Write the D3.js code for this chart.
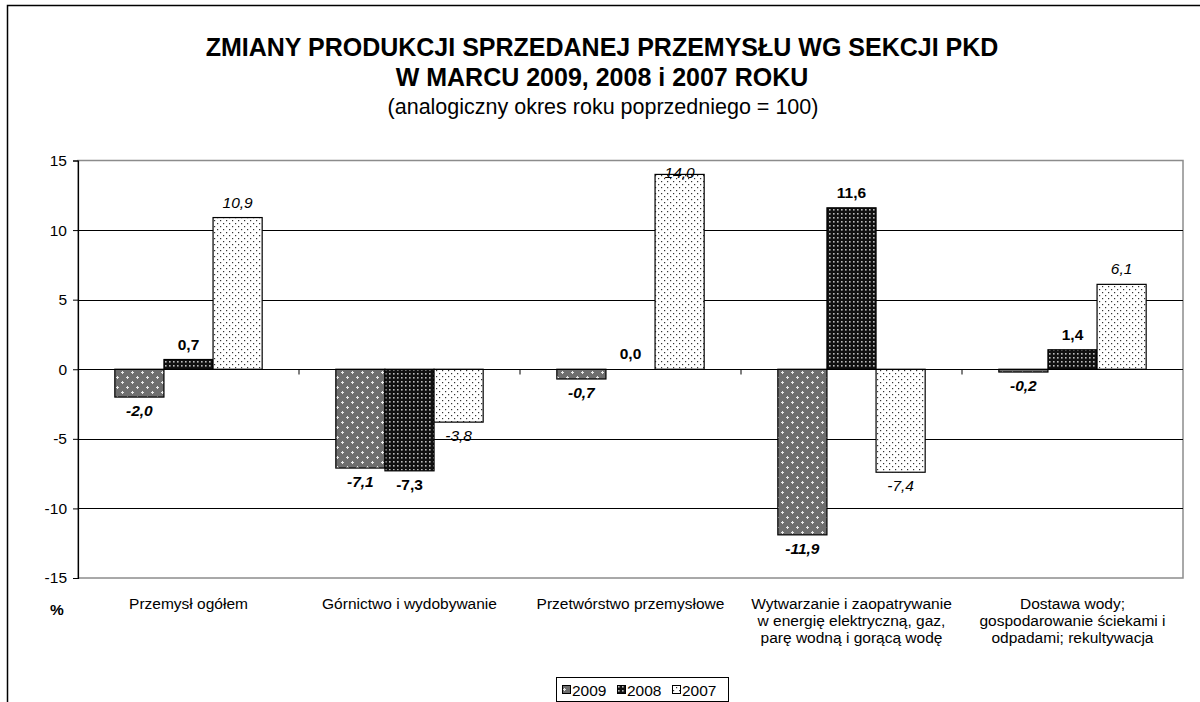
<!DOCTYPE html>
<html>
<head>
<meta charset="utf-8">
<script src="https://cdn.jsdelivr.net/npm/d3@7"></script>
<style>
  body { margin: 0; background: #fff; }
  text { font-family: Arial, "Liberation Sans", sans-serif; }
</style>
</head>
<body>
<div id="chart"></div>
<script>
// category labels, already broken into lines as on the original
const categories = [
  ['Przemysł ogółem'],
  ['Górnictwo i wydobywanie'],
  ['Przetwórstwo przemysłowe'],
  ['Wytwarzanie i zaopatrywanie', 'w energię elektryczną, gaz,', 'parę wodną i gorącą wodę'],
  ['Dostawa wody;', 'gospodarowanie ściekami i', 'odpadami; rekultywacja']
];
const years = ['2009', '2008', '2007'];
const values2009 = [-2.0, -7.1, -0.7, -11.9, -0.2];
const values2008 = [0.7, -7.3, 0.0, 11.6, 1.4];
const values2007 = [10.9, -3.8, 14.0, -7.4, 6.1];
const yTicks = [-15, -10, -5, 0, 5, 10, 15];

const width = 1200, height = 702;
const margin = { top: 160.5, right: 17, bottom: 124, left: 78 };

const svg = d3.select('#chart').append('svg')
  .attr('width', width)
  .attr('height', height);

// fill patterns, roughly like the old Excel ones
const defs = svg.append('defs');

const p09 = defs.append('pattern').attr('id', 'p2009')
  .attr('patternUnits', 'userSpaceOnUse').attr('width', 10).attr('height', 10);
p09.append('rect').attr('width', 10).attr('height', 10).attr('fill', '#6e6e6e');
[[2.5, 2.5], [7.5, 7.5]].forEach(([cx, cy]) => {
  p09.append('rect').attr('x', cx - 1.5).attr('y', cy - 0.5).attr('width', 3).attr('height', 1).attr('fill', '#e8e8e8');
  p09.append('rect').attr('x', cx - 0.5).attr('y', cy - 1.5).attr('width', 1).attr('height', 3).attr('fill', '#e8e8e8');
});

const p08 = defs.append('pattern').attr('id', 'p2008')
  .attr('patternUnits', 'userSpaceOnUse').attr('width', 4).attr('height', 4);
p08.append('rect').attr('width', 4).attr('height', 4).attr('fill', '#111');
p08.append('rect').attr('x', 1).attr('y', 1).attr('width', 1.6).attr('height', 1.6).attr('fill', '#bbb');

const p07 = defs.append('pattern').attr('id', 'p2007')
  .attr('patternUnits', 'userSpaceOnUse').attr('width', 6).attr('height', 6);
p07.append('rect').attr('width', 6).attr('height', 6).attr('fill', '#fff');
p07.append('rect').attr('x', 1).attr('y', 1).attr('width', 1.2).attr('height', 1.2).attr('fill', '#333');
p07.append('rect').attr('x', 4).attr('y', 4).attr('width', 1.2).attr('height', 1.2).attr('fill', '#333');

const fills = { '2009': 'url(#p2009)', '2008': 'url(#p2008)', '2007': 'url(#p2007)' };
const labelStyle = {
  '2009': { weight: 'bold', style: 'italic' },
  '2008': { weight: 'bold', style: 'normal' },
  '2007': { weight: 'normal', style: 'italic' }
};

// outer frame (runs off the right and bottom edges)
svg.append('path')
  .attr('d', `M7.5,${height + 2}V5.5H${width + 2}`)
  .attr('fill', 'none').attr('stroke', '#000').attr('stroke-width', 1.5);

// titles
svg.append('text').attr('x', 602).attr('y', 56).attr('text-anchor', 'middle')
  .attr('font-size', 25).attr('font-weight', 'bold')
  .text('ZMIANY PRODUKCJI SPRZEDANEJ PRZEMYSŁU WG SEKCJI PKD');
svg.append('text').attr('x', 602).attr('y', 86).attr('text-anchor', 'middle')
  .attr('font-size', 25).attr('font-weight', 'bold')
  .text('W MARCU 2009, 2008 i 2007 ROKU');
svg.append('text').attr('x', 603).attr('y', 114).attr('text-anchor', 'middle')
  .attr('font-size', 21.5)
  .text('(analogiczny okres roku poprzedniego = 100)');

const x0 = d3.scaleBand()
  .domain(d3.range(categories.length))
  .range([margin.left, width - margin.right]);

const x1 = d3.scaleBand()
  .domain(years)
  .range([0, x0.bandwidth()])
  .paddingInner(0)
  .paddingOuter(0.75);

const y = d3.scaleLinear()
  .domain([-15, 15])
  .range([height - margin.bottom, margin.top]);

// plot area border
svg.append('rect')
  .attr('x', margin.left).attr('y', y(15))
  .attr('width', width - margin.right - margin.left)
  .attr('height', y(-15) - y(15))
  .attr('fill', 'none').attr('stroke', '#8c8c8c').attr('stroke-width', 1.5);

// gridlines
svg.append('g').selectAll('line')
  .data(yTicks.filter(t => t !== 0 && Math.abs(t) !== 15))
  .join('line')
  .attr('x1', margin.left).attr('x2', width - margin.right)
  .attr('y1', d => Math.round(y(d)) + 0.5).attr('y2', d => Math.round(y(d)) + 0.5)
  .attr('stroke', '#000');

// bars
const series = [values2009, values2008, values2007];
const barData = [];
categories.forEach((c, i) => {
  years.forEach((yr, j) => barData.push({ cat: i, year: yr, value: series[j][i] }));
});

svg.append('g').selectAll('rect')
  .data(barData)
  .join('rect')
  .attr('x', d => x0(d.cat) + x1(d.year))
  .attr('y', d => y(Math.max(0, d.value)))
  .attr('width', x1.bandwidth())
  .attr('height', d => Math.abs(y(d.value) - y(0)))
  .attr('fill', d => fills[d.year])
  .attr('stroke', '#000').attr('stroke-width', 1.2);

// y axis (plain hyphen for negatives, as in the original)
const yAxis = d3.axisLeft(y).tickValues(yTicks).tickSize(5).tickPadding(6).tickFormat(d => String(d));
const yg = svg.append('g').attr('transform', `translate(${margin.left},0)`).call(yAxis);
yg.select('.domain').attr('stroke', '#000').attr('stroke-width', 1.2);
yg.selectAll('.tick line').attr('stroke', '#000');
yg.selectAll('.tick text').attr('font-size', 15.5).attr('fill', '#000')
  .attr('font-family', 'Arial, "Liberation Sans", sans-serif');

// category axis along zero, ticks at the band edges
const zeroY = Math.round(y(0)) + 0.5;
svg.append('line')
  .attr('x1', margin.left).attr('x2', width - margin.right)
  .attr('y1', zeroY).attr('y2', zeroY)
  .attr('stroke', '#000').attr('stroke-width', 1.2);
svg.append('g').selectAll('line')
  .data(d3.range(1, categories.length))
  .join('line')
  .attr('x1', d => x0(d)).attr('x2', d => x0(d))
  .attr('y1', zeroY).attr('y2', zeroY + 5)
  .attr('stroke', '#000');

// category labels under the plot
const catG = svg.append('g').selectAll('text')
  .data(categories)
  .join('text')
  .attr('x', (d, i) => x0(i) + x0.bandwidth() / 2)
  .attr('y', 609)
  .attr('text-anchor', 'middle')
  .attr('font-size', 15.5);
catG.selectAll('tspan')
  .data(d => d)
  .join('tspan')
  .attr('x', function() { return this.parentNode.getAttribute('x'); })
  .attr('dy', (d, i) => i === 0 ? 0 : 17)
  .text(d => d);

// % unit
svg.append('text').attr('x', 57).attr('y', 615).attr('text-anchor', 'middle')
  .attr('font-size', 15.5).attr('font-weight', 'bold').text('%');

// value labels
const fmt = v => d3.format('.1f')(v).replace('.', ',').replace('−', '-');
svg.append('g').selectAll('text')
  .data(barData)
  .join('text')
  .attr('x', d => x0(d.cat) + x1(d.year) + x1.bandwidth() / 2)
  .attr('y', d => {
    const yy = d.value >= 0 ? y(d.value) - 10 : y(d.value) + 19;
    return Math.max(yy, y(15) + 17);
  })
  .attr('text-anchor', 'middle')
  .attr('font-size', 15.5)
  .attr('font-weight', d => labelStyle[d.year].weight)
  .attr('font-style', d => labelStyle[d.year].style)
  .text(d => fmt(d.value));

// legend
const legend = svg.append('g').attr('transform', 'translate(556,677)');
legend.append('rect').attr('x', 0.5).attr('y', 0.5).attr('width', 172).attr('height', 24)
  .attr('fill', '#fff').attr('stroke', '#000');
const li = legend.selectAll('g.item')
  .data(years)
  .join('g').attr('class', 'item')
  .attr('transform', (d, i) => `translate(${6 + i * 55},0)`);
li.append('rect').attr('x', 0.5).attr('y', 8.5).attr('width', 8).attr('height', 8)
  .attr('fill', d => fills[d]).attr('stroke', '#000');
li.append('text').attr('x', 10).attr('y', 18.5).attr('font-size', 15.5).text(d => d);
</script>
</body>
</html>
